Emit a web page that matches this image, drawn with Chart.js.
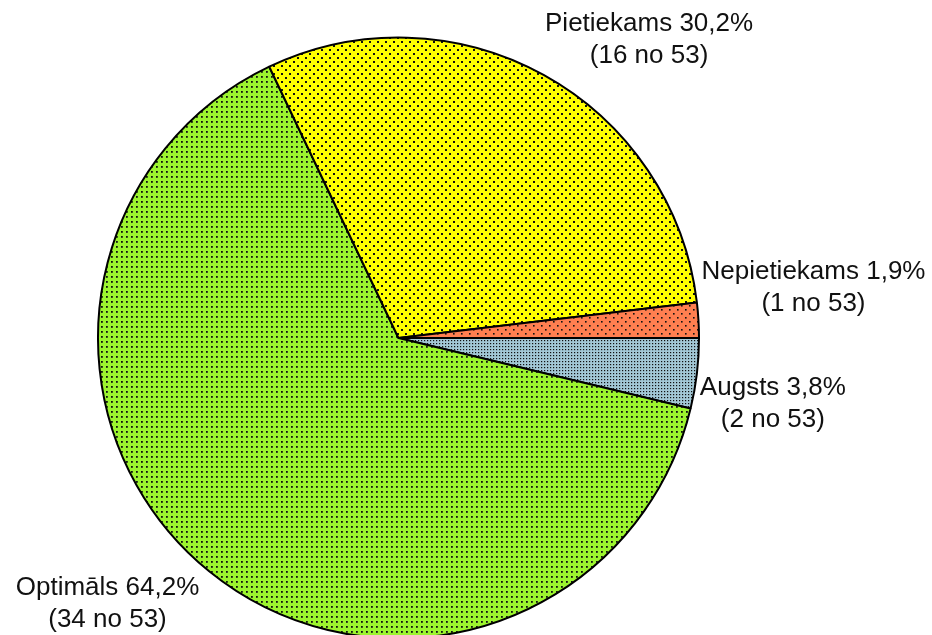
<!DOCTYPE html>
<html lang="lv">
<head>
<meta charset="UTF-8">
<title>Pie</title>
<script src="https://cdn.jsdelivr.net/npm/chart.js@4.4.1/dist/chart.umd.min.js"></script>
<style>
  html, body { margin: 0; padding: 0; background: #fff; overflow: hidden; }
  #wrap { position: absolute; left: 0; top: 0; width: 932px; height: 676px; }
</style>
</head>
<body>
<div id="wrap"><canvas id="pie" width="932" height="676"></canvas></div>
<script>
// data, clockwise from 3 o'clock
const categories = ['Augsts', 'Optimāls', 'Pietiekams', 'Nepietiekams'];
const counts = [2, 34, 16, 1];
const baseColors = ['#a3c8d6', '#9cf52e', '#ffff00', '#ff7f50'];

const total = counts.reduce((a, b) => a + b, 0);

// small dotted tiles, like the old office fill patterns
function makePattern(bg, size, dots, dotSize) {
  const c = document.createElement('canvas');
  c.width = size; c.height = size;
  const g = c.getContext('2d');
  g.fillStyle = bg;
  g.fillRect(0, 0, size, size);
  g.fillStyle = '#111';
  dots.forEach(([x, y]) => g.fillRect(x, y, dotSize, dotSize));
  return g.createPattern(c, 'repeat');
}

const fills = [
  makePattern(baseColors[0], 3, [[1, 1]], 1.2),
  makePattern(baseColors[1], 5, [[1, 1]], 1.8),
  makePattern(baseColors[2], 8, [[1, 1], [5, 5]], 2),
  makePattern(baseColors[3], 8, [[1, 1], [5, 5]], 1.6)
];

const labelPlugin = {
  id: 'outerLabels',
  afterDatasetsDraw(chart) {
    const ctx = chart.ctx;
    const meta = chart.getDatasetMeta(0);
    ctx.save();
    ctx.font = '26px "Liberation Sans", Arial, sans-serif';
    ctx.fillStyle = '#111';
    ctx.textBaseline = 'middle';
    ctx.textAlign = 'center';
    const lh = 32;
    meta.data.forEach((arc, i) => {
      const p = arc.getProps(['x', 'y', 'startAngle', 'endAngle', 'outerRadius'], true);
      const mid = (p.startAngle + p.endAngle) / 2;
      const r = p.outerRadius + 3;
      const px = p.x + Math.cos(mid) * r;
      const py = p.y + Math.sin(mid) * r;
      const pct = (counts[i] / total * 100).toFixed(1).replace('.', ',');
      const lines = [categories[i] + ' ' + pct + '%', '(' + counts[i] + ' no ' + total + ')'];
      const w = Math.max(...lines.map(l => ctx.measureText(l).width));
      const h = lines.length * lh;
      const left = Math.cos(mid) >= 0 ? px : px - w - 8;
      const top = Math.sin(mid) < 0 ? py - h : py - 2;
      lines.forEach((l, k) => ctx.fillText(l, left + w / 2, top + lh / 2 + k * lh));
    });
    ctx.restore();
  }
};

new Chart(document.getElementById('pie'), {
  type: 'pie',
  data: {
    labels: categories,
    datasets: [{
      data: counts,
      backgroundColor: fills,
      borderColor: '#000',
      borderWidth: 2
    }]
  },
  options: {
    responsive: false,
    animation: false,
    devicePixelRatio: 1,
    rotation: 90,
    layout: { padding: { left: 97, right: 232, top: 36, bottom: 36 } },
    plugins: {
      legend: { display: false },
      tooltip: { enabled: false }
    }
  },
  plugins: [labelPlugin]
});
</script>
</body>
</html>
